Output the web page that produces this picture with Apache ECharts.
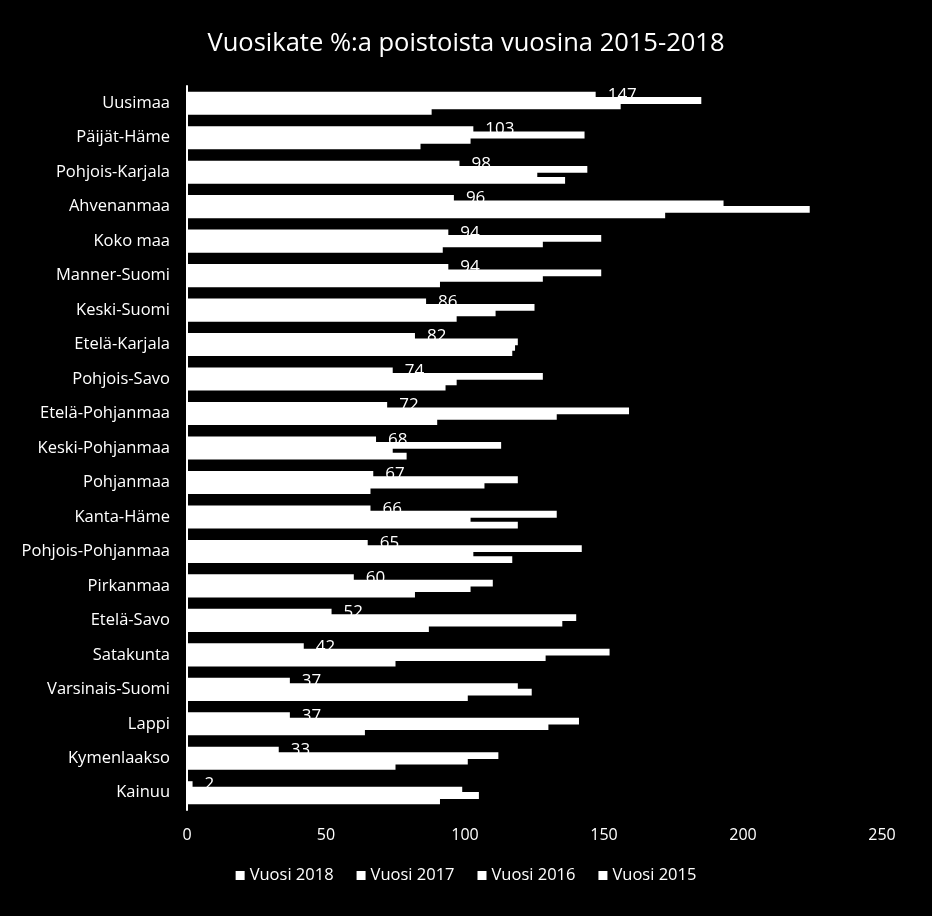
<!DOCTYPE html>
<html>
<head>
<meta charset="utf-8">
<script src="https://cdn.jsdelivr.net/npm/echarts@6/dist/echarts.min.js"></script>
<style>html,body{margin:0;padding:0;background:#000;}#c{width:932px;height:916px;}</style>
</head>
<body>
<div id="c"></div>
<script>
const categories = ["Uusimaa","Päijät-Häme","Pohjois-Karjala","Ahvenanmaa","Koko maa","Manner-Suomi","Keski-Suomi","Etelä-Karjala","Pohjois-Savo","Etelä-Pohjanmaa","Keski-Pohjanmaa","Pohjanmaa","Kanta-Häme","Pohjois-Pohjanmaa","Pirkanmaa","Etelä-Savo","Satakunta","Varsinais-Suomi","Lappi","Kymenlaakso","Kainuu"];
const seriesNames = ["Vuosi 2018","Vuosi 2017","Vuosi 2016","Vuosi 2015"];
const v2018 = [147,103,98,96,94,94,86,82,74,72,68,67,66,65,60,52,42,37,37,33,2];
const v2017 = [185,143,144,193,149,149,125,119,128,159,113,119,133,142,110,140,152,119,141,112,99];
const v2016 = [156,102,126,224,128,128,111,118,97,133,74,107,102,103,102,135,129,124,130,101,105];
const v2015 = [88,84,136,172,92,91,97,117,93,90,79,66,119,117,82,87,75,101,64,75,91];
const xTicks = [0,50,100,150,200,250];

const font = '"Open Sans", "Liberation Sans", sans-serif';
const dataSets = [v2018, v2017, v2016, v2015];
const chart = echarts.init(document.getElementById('c'));
chart.setOption({
  backgroundColor: '#000',
  animation: false,
  title: {
    text: 'Vuosikate %:a poistoista vuosina 2015-2018',
    left: 'center', top: 26,
    textStyle: {color: '#fff', fontFamily: font, fontSize: 25.5, fontWeight: 'normal'}
  },
  legend: {
    data: seriesNames,
    bottom: 27, left: 'center',
    itemWidth: 9, itemHeight: 9, itemGap: 23,
    icon: 'rect',
    textStyle: {color: '#fff', fontFamily: font, fontSize: 16.5}
  },
  grid: {left: 187, right: 50, top: 86, bottom: 106},
  xAxis: {
    type: 'value', min: xTicks[0], max: xTicks[xTicks.length-1], interval: 50,
    axisLine: {show: false}, axisTick: {show: false}, splitLine: {show: false},
    axisLabel: {color: '#fff', fontFamily: font, fontSize: 16, margin: 17}
  },
  yAxis: {
    type: 'category', data: categories, inverse: true,
    axisLine: {show: true, lineStyle: {color: '#fff', width: 2}},
    axisTick: {show: false},
    axisLabel: {color: '#fff', fontFamily: font, fontSize: 16.5, margin: 17}
  },
  series: seriesNames.map((n, i) => ({
    name: n, type: 'bar', data: dataSets[i],
    barGap: '-20%', barCategoryGap: '33%',
    itemStyle: {color: '#fff'},
    label: i === 0 ? {show: true, position: 'right', distance: 12, offset: [0, 0], color: '#fff', fontFamily: font, fontSize: 17} : {show: false}
  }))
});
</script>
</body>
</html>
